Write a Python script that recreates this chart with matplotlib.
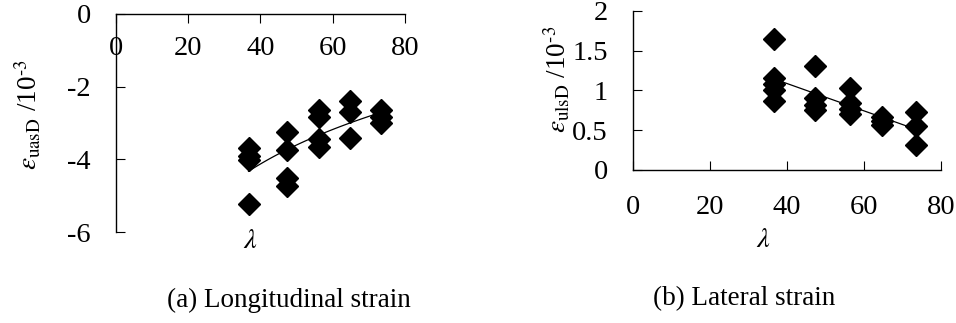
import numpy as np
import matplotlib
matplotlib.use('Agg')
import matplotlib.pyplot as plt

plt.rcParams['font.family'] = ['Liberation Serif', 'DejaVu Serif']
plt.rcParams['mathtext.fontset'] = 'stix'
plt.rcParams['axes.unicode_minus'] = False

# slenderness ratio groups
lam_a = [36.7]*4 + [47.4]*4 + [56.3]*4 + [64.8]*3 + [73.5]*3
strain_a = [-3.70, -3.90, -4.02, -5.24,
            -3.24, -3.74, -4.52, -4.73,
            -2.64, -2.83, -3.45, -3.65,
            -2.40, -2.69, -3.42,
            -2.64, -2.83, -3.01]

lam_b = [36.7]*5 + [47.4]*4 + [56.3]*4 + [64.8]*3 + [73.5]*3
strain_b = [1.65, 1.15, 1.08, 1.00, 0.86,
            1.30, 0.90, 0.82, 0.75,
            1.03, 0.84, 0.77, 0.70,
            0.67, 0.61, 0.57,
            0.73, 0.55, 0.31]

xticks = [0, 20, 40, 60, 80]
yticks_a = [0, -2, -4, -6]
yticks_b = [0, 0.5, 1, 1.5, 2]
yticklabels_b = ['0', '0.5', '1', '1.5', '2']

fs = 20.5
fig = plt.figure(figsize=(9.56, 3.23), dpi=100)

# ---- (a) longitudinal
ax1 = fig.add_axes([0.1213, 0.2817, 0.3023, 0.675])
ax1.plot(lam_a, strain_a, 'kD', ms=11.5, mec='k')
la = np.array(lam_a)
ka, ba = np.polyfit(np.log(la), strain_a, 1)
xx = np.linspace(la.min(), la.max(), 50)
ax1.plot(xx, ka*np.log(xx) + ba, 'k-', lw=0.9)
ax1.set_xlim(0, 80)
ax1.set_ylim(-6, 0)
ax1.spines['right'].set_color('none')
ax1.spines['top'].set_color('none')
ax1.spines['bottom'].set_position(('data', 0))
ax1.set_xticks(xticks)
ax1.set_yticks(yticks_a)
ax1.set_yticklabels([str(v) for v in yticks_a])
ax1.tick_params(axis='x', direction='out', length=6.5, pad=9, labelsize=fs)
ax1.tick_params(axis='y', direction='in', length=6.5, pad=18, labelsize=fs)
ax1.set_xlabel(r'$\lambda$', fontsize=fs)
ax1.xaxis.set_label_coords(0.464, -0.045)
ax1.xaxis.label.set_va('center')
ax1.set_ylabel(r'$\varepsilon_{\mathrm{uasD}}$ /10$^{\text{-3}}$', fontsize=19.5)
ax1.yaxis.set_label_coords(-0.3045, 0.537)
ax1.yaxis.label.set_va('center')

# ---- (b) lateral
ax2 = fig.add_axes([0.6618, 0.4737, 0.3225, 0.4932])
ax2.plot(lam_b, strain_b, 'kD', ms=11.5, mec='k')
lb = np.array(lam_b)
kb, bb = np.polyfit(lb, strain_b, 1)
xx = np.linspace(lb.min(), lb.max(), 50)
ax2.plot(xx, kb*xx + bb, 'k-', lw=0.9)
ax2.set_xlim(0, 80)
ax2.set_ylim(0, 2)
ax2.spines['right'].set_color('none')
ax2.spines['top'].set_color('none')
ax2.set_xticks(xticks)
ax2.set_yticks(yticks_b)
ax2.set_yticklabels(yticklabels_b)
ax2.tick_params(axis='x', direction='in', length=6.5, pad=18, labelsize=fs)
ax2.tick_params(axis='y', direction='in', length=6.5, pad=18, labelsize=fs)
ax2.set_xlabel(r'$\lambda$', fontsize=fs)
ax2.xaxis.set_label_coords(0.4226, -0.44)
ax2.xaxis.label.set_va('center')
ax2.set_ylabel(r'$\varepsilon_{\mathrm{ulsD}}$ /10$^{\text{-3}}$', fontsize=19.5)
ax2.yaxis.set_label_coords(-0.2455, 0.571)
ax2.yaxis.label.set_va('center')

for ax in (ax1, ax2):
    for s in ('left', 'bottom'):
        ax.spines[s].set_linewidth(1.0)

fig.text(289/956, 1 - 307/323, '(a) Longitudinal strain', ha='center', va='baseline', fontsize=19.5)
fig.text(744/956, 1 - 305/323, '(b) Lateral strain', ha='center', va='baseline', fontsize=19.5)

fig.savefig('out.png', dpi=100)
